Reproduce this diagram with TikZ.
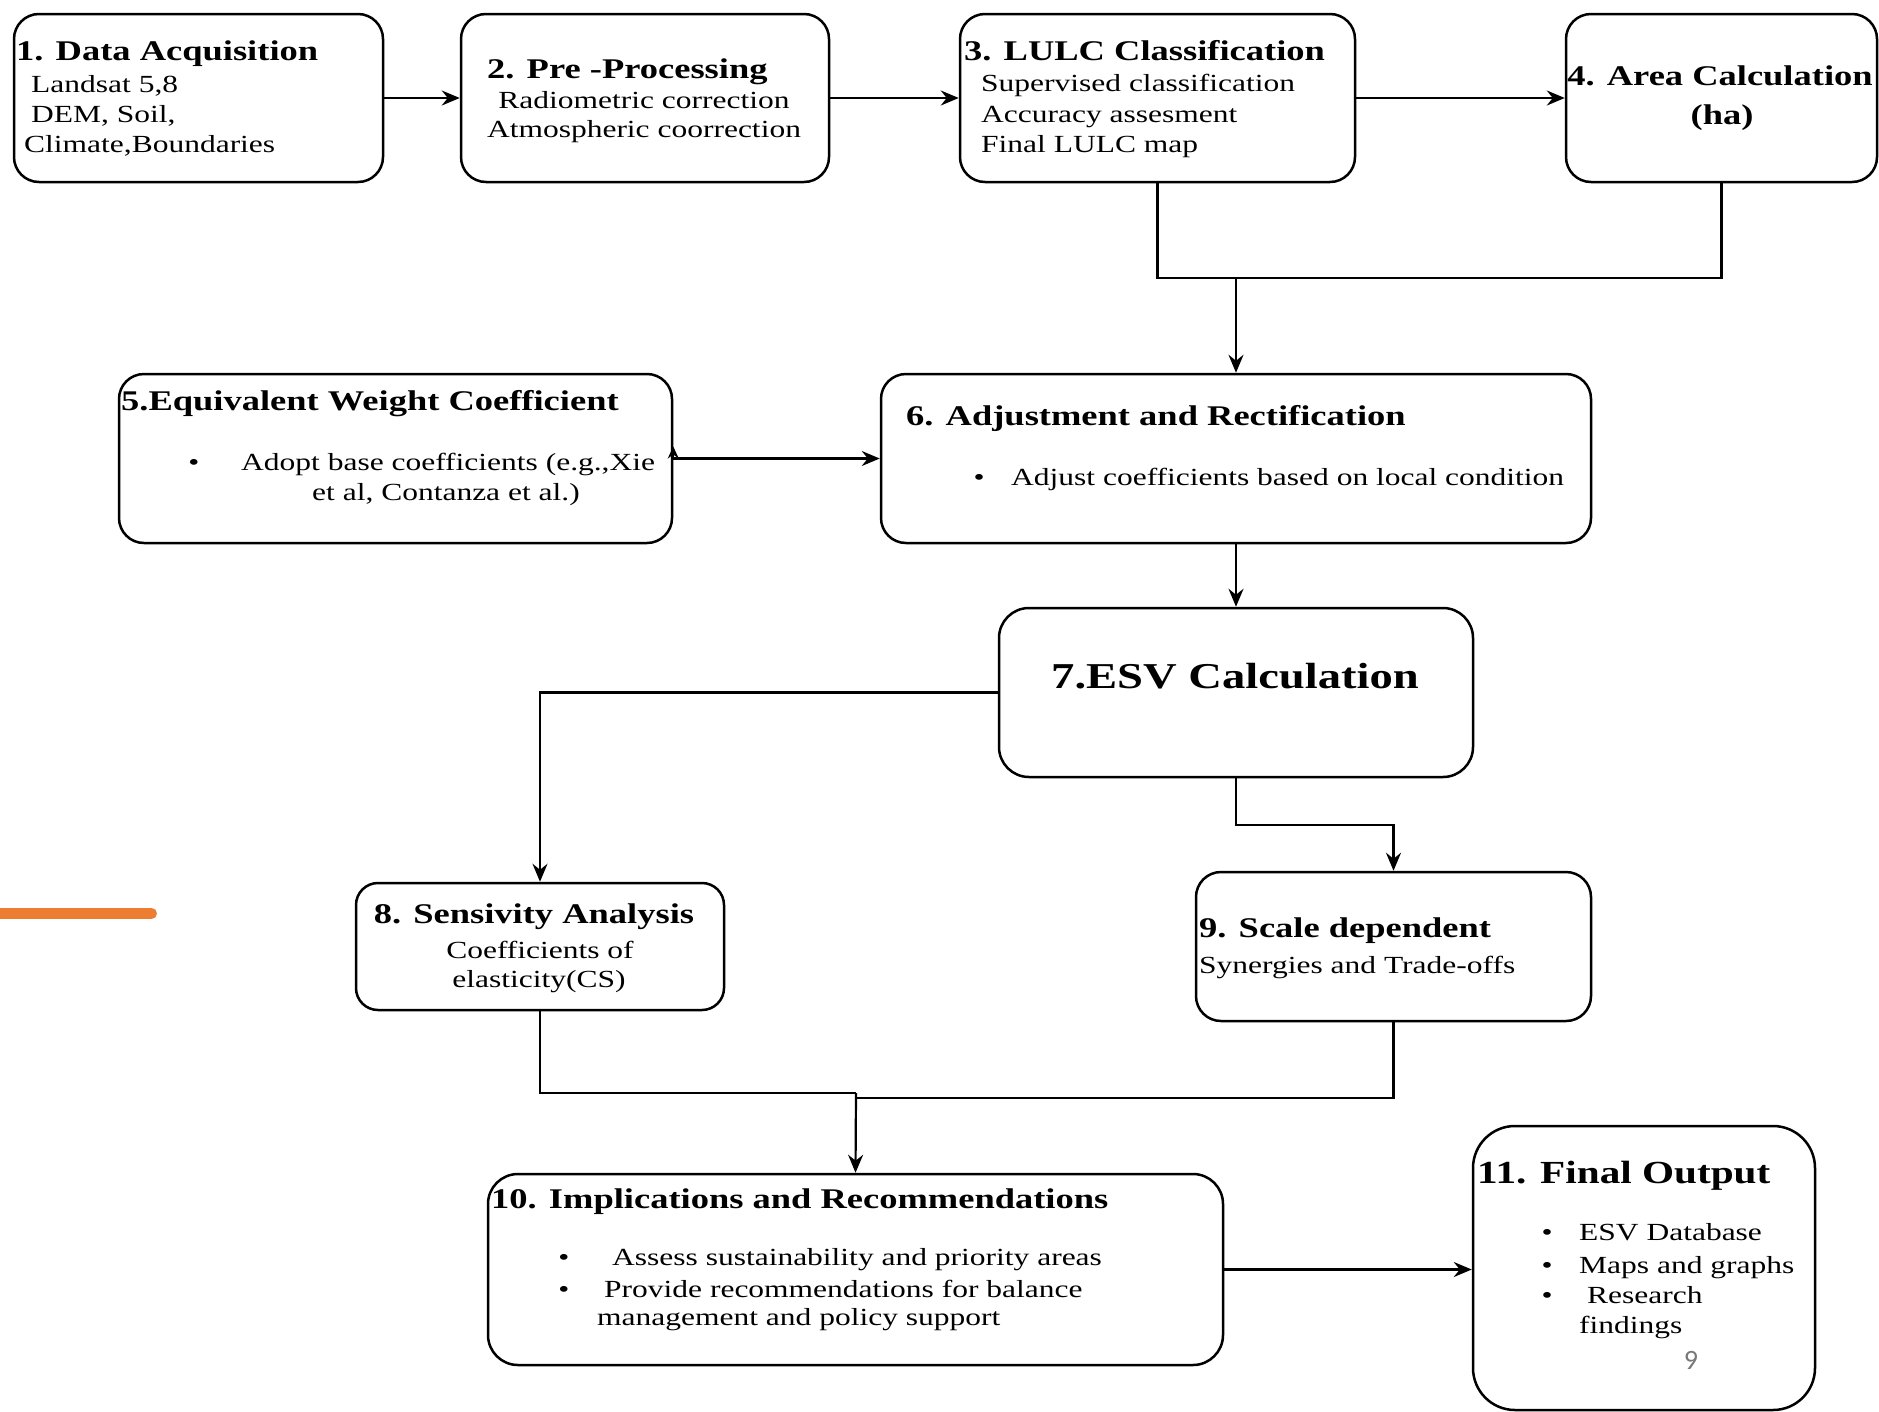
\documentclass[tikz,border=0pt]{standalone}
\usepackage{fontspec}
\setmainfont{Liberation Serif}[FakeStretch=1.28]
\newfontfamily\pagefont{Carlito}
\usetikzlibrary{arrows.meta}
\definecolor{accent}{HTML}{ED7D31}
\definecolor{pagegray}{RGB}{120,120,120}
\begin{document}
\begin{tikzpicture}[x=1pt,y=-1pt,
  box/.style={draw, line width=2.5pt, rounded corners=25pt, inner sep=0pt},
  hd/.style={anchor=base west, inner sep=0pt, font=\bfseries\fontsize{28.5}{33}\selectfont},
  bd/.style={anchor=base west, inner sep=0pt, font=\fontsize{24.6}{29}\selectfont},
  bul/.style={anchor=base, inner sep=0pt, font=\fontsize{24.6}{29}\selectfont},
  ln/.style={line width=2.2pt},
  arr/.style={line width=2.2pt, -{Stealth[length=18pt,width=15pt,inset=6pt]}}]
\useasboundingbox[fill=white] (0,0) rectangle (1879,1411);

% orange accent bar
\draw[accent, line width=11pt, line cap=round] (-10,913.5) -- (151.5,913.5);

% boxes
\node[box, minimum width=369pt, minimum height=168pt] (b1) at (198.5,98) {};
\node[box, minimum width=368pt, minimum height=168pt] (b2) at (645,98) {};
\node[box, minimum width=395pt, minimum height=168pt] (b3) at (1157.5,98) {};
\node[box, minimum width=311pt, minimum height=168pt] (b4) at (1721.5,98) {};
\node[box, minimum width=553pt, minimum height=169pt] (b5) at (395.5,458.5) {};
\node[box, minimum width=710pt, minimum height=169pt] (b6) at (1236,458.5) {};
\node[box, minimum width=474pt, minimum height=169pt, rounded corners=30pt] (b7) at (1236,692.5) {};
\node[box, minimum width=368pt, minimum height=127pt, rounded corners=22pt] (b8) at (540,946.5) {};
\node[box, minimum width=395pt, minimum height=149pt] (b9) at (1393.5,946.5) {};
\node[box, minimum width=735pt, minimum height=191pt, rounded corners=30pt] (b10) at (855.5,1269.5) {};
\node[box, minimum width=342pt, minimum height=284pt, rounded corners=42pt] (b11) at (1644,1268) {};

% texts box 1
\node[hd] (t1h) at (16,60) {1. Data Acquisition};
\node[bd] (t1a) at (31,92) {Landsat 5,8};
\node[bd] (t1b) at (31,122) {DEM, Soil,};
\node[bd] (t1c) at (24,152) {Climate,Boundaries};
% box 2
\node[hd] (t2h) at (487,78) {2. Pre -Processing};
\node[bd, anchor=base] (t2a) at (644,108) {Radiometric correction};
\node[bd, anchor=base] (t2b) at (644,137) {Atmospheric coorrection};
% box 3
\node[hd] (t3h) at (964,60) {3. LULC Classification};
\node[bd] (t3a) at (981,91) {Supervised classification};
\node[bd] (t3b) at (981,122) {Accuracy assesment};
\node[bd] (t3c) at (981,152) {Final LULC map};
% box 4
\node[hd, anchor=base] (t4h) at (1720,85) {4. Area Calculation};
\node[hd, anchor=base] (t4a) at (1722,124) {(ha)};
% box 5
\node[hd] (t5h) at (121,410) {5.Equivalent Weight Coefficient};
\node[bul] (t5d) at (194,470) {•};
\node[bd] (t5a) at (241,470) {Adopt base coefficients (e.g.,Xie};
\node[bd] (t5b) at (312,500) {et al, Contanza et al.)};
% box 6
\node[hd] (t6h) at (906,425) {6. Adjustment and Rectification};
\node[bul] (t6d) at (979,485) {•};
\node[bd] (t6a) at (1011,485) {Adjust coefficients based on local condition};
% box 7
\node[hd, anchor=base, font=\bfseries\fontsize{36.4}{42}\selectfont] (t7h) at (1235,688) {7.ESV Calculation};
% box 8
\node[hd, anchor=base] (t8h) at (534,923) {8. Sensivity Analysis};
\node[bd, anchor=base] (t8a) at (540,958) {Coefficients of};
\node[bd, anchor=base] (t8b) at (539,987) {elasticity(CS)};
% box 9
\node[hd] (t9h) at (1199,937) {9. Scale dependent};
\node[bd] (t9a) at (1199,973) {Synergies and Trade-offs};
% box 10
\node[hd] (t10h) at (491,1208) {10. Implications and Recommendations};
\node[bul] (t10d) at (564,1265) {•};
\node[bd] (t10a) at (612,1265) {Assess sustainability and priority areas};
\node[bul] (t10e) at (564,1297) {•};
\node[bd] (t10b) at (604,1297) {Provide recommendations for balance};
\node[bd] (t10c) at (597,1325) {management and policy support};
% box 11
\node[hd, font=\bfseries\fontsize{32.2}{38}\selectfont] (t11h) at (1477,1183) {11. Final Output};
\node[bul] (t11d) at (1547,1240) {•};
\node[bd] (t11a) at (1579,1240) {ESV Database};
\node[bul] (t11e) at (1547,1273) {•};
\node[bd] (t11b) at (1579,1273) {Maps and graphs};
\node[bul] (t11f) at (1547,1303) {•};
\node[bd] (t11c) at (1587,1303) {Research};
\node[bd] (t11g) at (1579,1333) {findings};
\node[anchor=base, inner sep=0pt, text=pagegray, font=\pagefont\fontsize{28}{32}\selectfont] (pg) at (1691,1369) {9};

% junction coordinates
\coordinate (j1) at (1236,278);
\coordinate (j3) at (856,1093);
\coordinate (j4) at (856,1098);

% connectors
\draw[arr] (b1.east) -- (b2.west);
\draw[arr] (b2.east) -- (b3.west);
\draw[arr] (b3.east) -- (b4.west);
\draw[ln] (b3.south) -- (b3.south |- j1) -- (b4.south |- j1) -- (b4.south);
\draw[arr] (j1) -- (b6.north);
\draw[arr] (b5.east) -- (b6.west);
\draw[line width=2pt, -{Stealth[length=12pt,width=11pt,inset=4pt]}] ([yshift=-1pt]b5.east) -- ([yshift=12pt]b5.east);
\draw[arr] (b6.south) -- (b7.north);
\draw[arr] (b7.west) -| (b8.north);
\draw[arr] (b7.south) -- ++(0,47) -| (b9.north);
\draw[ln] (b8.south) |- (j3);
\draw[ln] (b9.south) |- (j4) -- (j3);
\draw[arr] (j3) -- (b10.north);
\draw[arr] (b10.east) -- (b10.east -| b11.west);
\end{tikzpicture}
\end{document}
